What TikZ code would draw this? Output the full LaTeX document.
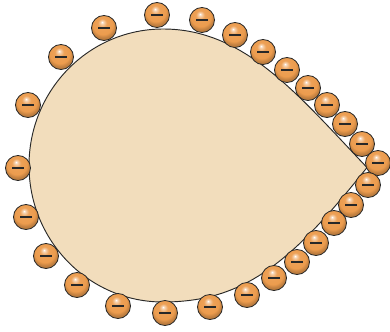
\documentclass[tikz,border=0pt]{standalone}
\usepackage{tikz}

\definecolor{dropfill}{RGB}{242,221,188}
\definecolor{chargeorange}{RGB}{236,156,78}
\definecolor{outline}{RGB}{40,40,40}
\pgfdeclareradialshading{chargeball}{\pgfpoint{-4bp}{12bp}}{color(0bp)=(white); color(3bp)=(chargeorange!45!white); color(9bp)=(chargeorange!95!white); color(20bp)=(chargeorange); color(26bp)=(chargeorange!80!black); color(50bp)=(chargeorange!80!black)}

\begin{document}
\begin{tikzpicture}[x=0.03cm, y=-0.03cm,
  drop/.style={draw=outline, line width=0.8pt, fill=dropfill},
  electron/.style={circle, draw=outline, line width=0.7pt, shading=chargeball,
                   minimum size=0.75cm, inner sep=0pt, text=outline},
]
\useasboundingbox (0,0) rectangle (390,331);

% conductor
\draw[drop] (367,167.5) .. controls (298,95) and (245,29) .. (163,29)
  .. controls (89,29) and (29,90) .. (29,165.5)
  .. controls (29,241) and (89,302) .. (163,302)
  .. controls (245,302) and (292.6,261) .. (367,167.5) -- cycle;

% surface charges
\foreach \x/\y [count=\i] in {157/15, 202/20, 235/35, 263/52, 287/70, 308/88,
    327/105, 345/124, 362/144, 378/163, 368/185, 351/205, 334/223, 316/243,
    297/262, 274/278, 247/295, 210/307, 165/313, 118/306, 77/285, 46/256,
    26/217, 18/168, 28/105, 61/57, 104/28}
  \node[electron] (e\i) at (\x,\y) {\rule{3.5mm}{0.6mm}};

\end{tikzpicture}
\end{document}
